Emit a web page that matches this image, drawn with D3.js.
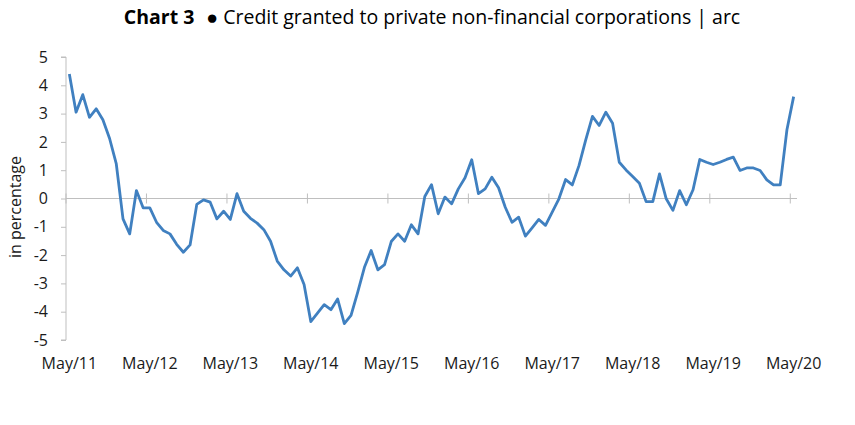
<!DOCTYPE html>
<html>
<head>
<meta charset="utf-8">
<script src="https://cdn.jsdelivr.net/npm/d3@7"></script>
<style>
  html, body { margin: 0; padding: 0; background: #ffffff; }
  svg { display: block; font-family: "Open Sans", sans-serif; }
</style>
</head>
<body>
<svg id="chart" width="855" height="425"></svg>
<script>
// ---- Data ----
const startMonth = new Date(2011, 4, 1); // May 2011
const endMonth = new Date(2020, 4, 1);   // May 2020
const categories = d3.timeMonth.range(startMonth, d3.timeMonth.offset(endMonth, 1));

const values = [
  4.40, 3.05, 3.67, 2.87, 3.17, 2.78, 2.12, 1.22, -0.72, -1.25,
  0.28, -0.33, -0.33, -0.84, -1.13, -1.25, -1.62, -1.90, -1.64, -0.21,
  -0.05, -0.13, -0.72, -0.45, -0.74, 0.17, -0.45, -0.70, -0.87, -1.10,
  -1.51, -2.21, -2.52, -2.74, -2.45, -3.04, -4.35, -4.05, -3.75, -3.93,
  -3.55, -4.42, -4.13, -3.31, -2.43, -1.84, -2.52, -2.34, -1.52, -1.25,
  -1.51, -0.93, -1.25, 0.07, 0.49, -0.54, 0.05, -0.19, 0.34, 0.73,
  1.37, 0.17, 0.34, 0.75, 0.38, -0.31, -0.84, -0.66, -1.33, -1.04,
  -0.74, -0.95, -0.48, -0.01, 0.67, 0.48, 1.17, 2.07, 2.90, 2.58,
  3.05, 2.66, 1.28, 1.01, 0.78, 0.54, -0.11, -0.11, 0.87, -0.01,
  -0.42, 0.28, -0.22, 0.31, 1.38, 1.28, 1.20, 1.28, 1.38, 1.46,
  0.99, 1.08, 1.08, 0.99, 0.66, 0.48, 0.48, 2.43, 3.60
];

const xTickLabels = ["May/11","May/12","May/13","May/14","May/15","May/16","May/17","May/18","May/19","May/20"];
const yTicks = [5, 4, 3, 2, 1, 0, -1, -2, -3, -4, -5];

const titleBold = "Chart 3";
const titleRest = "\u25CF Credit granted to private non-financial corporations | arc";
const yLabel = "in percentage";

// ---- Layout ----
const svg = d3.select("#chart");
const plotLeft = 66, plotRight = 797, plotTop = 57, plotBottom = 340;
const gridColor = "#bfbfbf";
const lineColor = "#4080c0";
const textColor = "#1a1a1a";

const x = d3.scaleBand()
  .domain(d3.range(categories.length))
  .range([plotLeft, plotRight])
  .padding(0);

const y = d3.scaleLinear().domain([-5, 5]).range([plotBottom, plotTop]);

// Title
const title = svg.append("text")
  .attr("x", 432)
  .attr("y", 23.5)
  .attr("text-anchor", "middle")
  .attr("font-size", 19.5)
  .attr("fill", "#000");
title.append("tspan").attr("font-weight", "bold").text(titleBold);
title.append("tspan").attr("dx", 12).text(titleRest);

// Y axis
const yAxis = d3.axisLeft(y)
  .tickValues(yTicks)
  .tickSize(5)
  .tickPadding(13)
  .tickFormat(d3.format("d"));

const gy = svg.append("g")
  .attr("transform", `translate(${plotLeft},0)`)
  .call(yAxis);
gy.select(".domain").attr("stroke", gridColor).attr("d", `M-5,${plotTop}H0V${plotBottom}H-5`);
gy.selectAll(".tick line").attr("stroke", gridColor);
gy.selectAll(".tick text")
  .attr("font-size", 16)
  .attr("fill", textColor)
  .attr("font-family", "Open Sans, sans-serif")
  .text(d => d < 0 ? "-" + Math.abs(d) : d);

// Y label
svg.append("text")
  .attr("transform", `translate(21,207) rotate(-90)`)
  .attr("text-anchor", "middle")
  .attr("font-size", 16)
  .attr("fill", textColor)
  .text(yLabel);

// X axis (zero line) with crossing tick marks
const tickIdx = d3.range(0, categories.length, 12);
const xAxisTop = d3.axisTop(x)
  .tickValues(tickIdx)
  .tickSize(5)
  .tickFormat("");
const gx1 = svg.append("g")
  .attr("transform", `translate(0,${y(0)})`)
  .call(xAxisTop);
gx1.select(".domain").attr("stroke", gridColor).attr("d", `M${plotLeft},0H${plotRight}`);
gx1.selectAll(".tick").attr("transform", d => `translate(${x(d)},0)`);
gx1.selectAll(".tick line").attr("stroke", gridColor).attr("y1", -5).attr("y2", 5);

// X labels at bottom
const xLab = d3.axisBottom(x)
  .tickValues(tickIdx)
  .tickSize(0)
  .tickPadding(0)
  .tickFormat((d, i) => xTickLabels[i]);
const gx2 = svg.append("g")
  .attr("transform", `translate(0,${plotBottom + 18})`)
  .call(xLab);
gx2.select(".domain").remove();
gx2.selectAll(".tick text")
  .attr("font-size", 16)
  .attr("fill", textColor)
  .attr("font-family", "Open Sans, sans-serif");

// Line
const line = d3.line()
  .x((d, i) => x(i) + x.bandwidth() / 2)
  .y(d => y(d));

svg.append("path")
  .datum(values)
  .attr("fill", "none")
  .attr("stroke", lineColor)
  .attr("stroke-width", 2.8)
  .attr("stroke-linejoin", "round")
  .attr("d", line);
</script>
</body>
</html>
